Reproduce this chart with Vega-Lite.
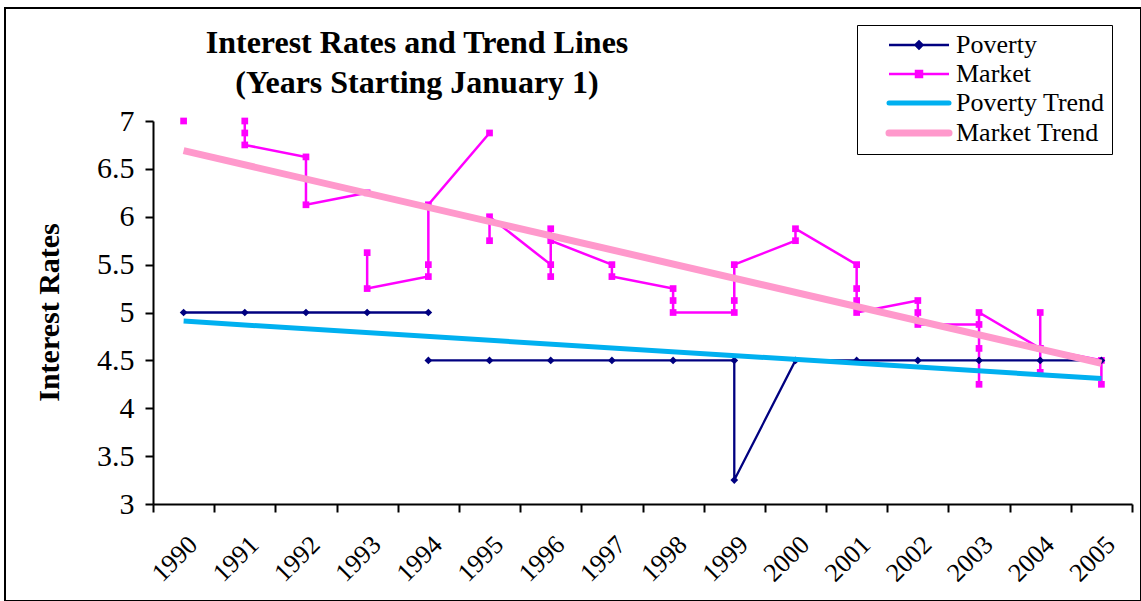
{
  "$schema": "https://vega.github.io/schema/vega-lite/v6.json",
  "width": 1136,
  "height": 593,
  "autosize": {"type": "none"},
  "padding": {"left": 5, "top": 8, "right": 0, "bottom": 0},
  "background": "white",
  "config": {
    "view": {"stroke": "black", "strokeWidth": 2},
    "font": "Liberation Serif"
  },
  "title": {
    "text": ["Interest Rates and Trend Lines", "(Years Starting January 1)"],
    "font": "Liberation Serif",
    "fontSize": 32,
    "fontWeight": "bold",
    "color": "black",
    "anchor": "middle",
    "frame": "group",
    "dx": -156,
    "offset": -92,
    "baseline": "top",
    "lineHeight": 40
  },
  "data": {
    "values": [
      {"s": "Market", "seg": "m0", "i": 0, "yr": 1990, "v": 7.0},
      {"s": "Market", "seg": "m1", "i": 1, "yr": 1991, "v": 7.0},
      {"s": "Market", "seg": "m1", "i": 2, "yr": 1991, "v": 6.875},
      {"s": "Market", "seg": "m1", "i": 3, "yr": 1991, "v": 6.75},
      {"s": "Market", "seg": "m1", "i": 4, "yr": 1992, "v": 6.625},
      {"s": "Market", "seg": "m1", "i": 5, "yr": 1992, "v": 6.125},
      {"s": "Market", "seg": "m1", "i": 6, "yr": 1993, "v": 6.25},
      {"s": "Market", "seg": "m2", "i": 7, "yr": 1993, "v": 5.625},
      {"s": "Market", "seg": "m2", "i": 8, "yr": 1993, "v": 5.25},
      {"s": "Market", "seg": "m2", "i": 9, "yr": 1994, "v": 5.375},
      {"s": "Market", "seg": "m2", "i": 10, "yr": 1994, "v": 5.5},
      {"s": "Market", "seg": "m2", "i": 11, "yr": 1994, "v": 6.125},
      {"s": "Market", "seg": "m2", "i": 12, "yr": 1995, "v": 6.875},
      {"s": "Market", "seg": "m3", "i": 13, "yr": 1995, "v": 5.75},
      {"s": "Market", "seg": "m3", "i": 14, "yr": 1995, "v": 6.0},
      {"s": "Market", "seg": "m3", "i": 15, "yr": 1996, "v": 5.5},
      {"s": "Market", "seg": "m3", "i": 16, "yr": 1996, "v": 5.375},
      {"s": "Market", "seg": "m3", "i": 17, "yr": 1996, "v": 5.875},
      {"s": "Market", "seg": "m3", "i": 18, "yr": 1996, "v": 5.75},
      {"s": "Market", "seg": "m3", "i": 19, "yr": 1997, "v": 5.5},
      {"s": "Market", "seg": "m3", "i": 20, "yr": 1997, "v": 5.375},
      {"s": "Market", "seg": "m3", "i": 21, "yr": 1998, "v": 5.25},
      {"s": "Market", "seg": "m3", "i": 22, "yr": 1998, "v": 5.125},
      {"s": "Market", "seg": "m3", "i": 23, "yr": 1998, "v": 5.0},
      {"s": "Market", "seg": "m3", "i": 24, "yr": 1999, "v": 5.0},
      {"s": "Market", "seg": "m3", "i": 25, "yr": 1999, "v": 5.125},
      {"s": "Market", "seg": "m3", "i": 26, "yr": 1999, "v": 5.5},
      {"s": "Market", "seg": "m3", "i": 27, "yr": 2000, "v": 5.75},
      {"s": "Market", "seg": "m3", "i": 28, "yr": 2000, "v": 5.875},
      {"s": "Market", "seg": "m3", "i": 29, "yr": 2001, "v": 5.5},
      {"s": "Market", "seg": "m3", "i": 30, "yr": 2001, "v": 5.25},
      {"s": "Market", "seg": "m3", "i": 31, "yr": 2001, "v": 5.125},
      {"s": "Market", "seg": "m3", "i": 32, "yr": 2001, "v": 5.0},
      {"s": "Market", "seg": "m3", "i": 33, "yr": 2002, "v": 5.125},
      {"s": "Market", "seg": "m3", "i": 34, "yr": 2002, "v": 5.0},
      {"s": "Market", "seg": "m3", "i": 35, "yr": 2002, "v": 4.875},
      {"s": "Market", "seg": "m3", "i": 36, "yr": 2003, "v": 4.875},
      {"s": "Market", "seg": "m3", "i": 37, "yr": 2003, "v": 4.625},
      {"s": "Market", "seg": "m3", "i": 38, "yr": 2003, "v": 4.25},
      {"s": "Market", "seg": "m3", "i": 39, "yr": 2003, "v": 5.0},
      {"s": "Market", "seg": "m3", "i": 40, "yr": 2004, "v": 4.625},
      {"s": "Market", "seg": "m3", "i": 41, "yr": 2004, "v": 5.0},
      {"s": "Market", "seg": "m3", "i": 42, "yr": 2004, "v": 4.375},
      {"s": "Market", "seg": "m3", "i": 43, "yr": 2004, "v": 4.625},
      {"s": "Market", "seg": "m3", "i": 44, "yr": 2005, "v": 4.5},
      {"s": "Market", "seg": "m3", "i": 45, "yr": 2005, "v": 4.25},
      {"s": "Poverty", "seg": "p1", "i": 0, "yr": 1990, "v": 5.0},
      {"s": "Poverty", "seg": "p1", "i": 1, "yr": 1991, "v": 5.0},
      {"s": "Poverty", "seg": "p1", "i": 2, "yr": 1992, "v": 5.0},
      {"s": "Poverty", "seg": "p1", "i": 3, "yr": 1993, "v": 5.0},
      {"s": "Poverty", "seg": "p1", "i": 4, "yr": 1994, "v": 5.0},
      {"s": "Poverty", "seg": "p2", "i": 5, "yr": 1994, "v": 4.5},
      {"s": "Poverty", "seg": "p2", "i": 6, "yr": 1995, "v": 4.5},
      {"s": "Poverty", "seg": "p2", "i": 7, "yr": 1996, "v": 4.5},
      {"s": "Poverty", "seg": "p2", "i": 8, "yr": 1997, "v": 4.5},
      {"s": "Poverty", "seg": "p2", "i": 9, "yr": 1998, "v": 4.5},
      {"s": "Poverty", "seg": "p2", "i": 10, "yr": 1999, "v": 4.5},
      {"s": "Poverty", "seg": "p2", "i": 11, "yr": 1999, "v": 3.25},
      {"s": "Poverty", "seg": "p2", "i": 12, "yr": 2000, "v": 4.5},
      {"s": "Poverty", "seg": "p2", "i": 13, "yr": 2001, "v": 4.5},
      {"s": "Poverty", "seg": "p2", "i": 14, "yr": 2002, "v": 4.5},
      {"s": "Poverty", "seg": "p2", "i": 15, "yr": 2003, "v": 4.5},
      {"s": "Poverty", "seg": "p2", "i": 16, "yr": 2004, "v": 4.5},
      {"s": "Poverty", "seg": "p2", "i": 17, "yr": 2005, "v": 4.5},
      {"s": "Poverty Trend", "seg": "pt", "i": 0, "yr": 1990, "v": 4.91},
      {"s": "Poverty Trend", "seg": "pt", "i": 1, "yr": 2005, "v": 4.31},
      {"s": "Market Trend", "seg": "mt", "i": 0, "yr": 1990, "v": 6.69},
      {"s": "Market Trend", "seg": "mt", "i": 1, "yr": 2005, "v": 4.47}
    ]
  },
  "encoding": {
    "x": {
      "field": "yr",
      "type": "ordinal",
      "scale": {
        "type": "band",
        "domain": [1990, 1991, 1992, 1993, 1994, 1995, 1996, 1997, 1998, 1999, 2000, 2001, 2002, 2003, 2004, 2005],
        "range": [148, 1127],
        "paddingInner": 0,
        "paddingOuter": 0
      },
      "axis": {
        "title": null,
        "orient": "bottom",
        "offset": -97,
        "tickBand": "extent",
        "grid": false,
        "domainColor": "black",
        "domainWidth": 2,
        "tickColor": "black",
        "tickWidth": 2,
        "tickSize": 8,
        "labelAngle": -45,
        "labelAlign": "right",
        "labelBaseline": "top",
        "labelPadding": 19,
        "labelFont": "Liberation Serif",
        "labelFontSize": 26,
        "labelColor": "black",
        "labelOverlap": false
      }
    },
    "y": {
      "field": "v",
      "type": "quantitative",
      "scale": {"domain": [3, 7], "range": [496, 113], "nice": false, "zero": false},
      "axis": {
        "title": "Interest Rates",
        "orient": "left",
        "offset": -148,
        "values": [3, 3.5, 4, 4.5, 5, 5.5, 6, 6.5, 7],
        "format": "~g",
        "grid": false,
        "domainColor": "black",
        "domainWidth": 2,
        "tickColor": "black",
        "tickWidth": 2,
        "tickSize": 8,
        "labelPadding": 11,
        "labelFont": "Liberation Serif",
        "labelFontSize": 30,
        "labelColor": "black",
        "titleFont": "Liberation Serif",
        "titleFontSize": 30,
        "titleFontWeight": "bold",
        "titleColor": "black",
        "titleX": -104,
        "titleY": 304,
        "titleAngle": -90,
        "titleAlign": "center",
        "titleBaseline": "middle"
      }
    }
  },
  "layer": [
    {
      "transform": [{"filter": "datum.s === 'Market'"}],
      "mark": {"type": "line", "strokeWidth": 2.5},
      "encoding": {
        "color": {
          "field": "s",
          "type": "nominal",
          "scale": {
            "domain": ["Poverty", "Market", "Poverty Trend", "Market Trend"],
            "range": ["#000080", "#FF00FF", "#00B0F0", "#FF99CC"]
          },
          "legend": {
            "orient": "none",
            "legendX": 852,
            "legendY": 17,
            "direction": "vertical",
            "title": null,
            "padding": 7,
            "strokeColor": "black",
            "fillColor": "white",
            "labelFont": "Liberation Serif",
            "labelFontSize": 26,
            "labelColor": "black",
            "labelBaseline": "middle",
            "rowPadding": 3,
            "symbolSize": 100,
            "symbolOffset": 42,
            "labelOffset": 24,
            "symbolType": "M-6,0H6",
            "encode": {
              "symbols": {
                "update": {
                  "shape": {"signal": "datum.value === 'Poverty' ? 'M-6,0H6M-0.7,0L0,-0.7L0.7,0L0,0.7Z' : datum.value === 'Market' ? 'M-6,0H6M-0.6,-0.6H0.6V0.6H-0.6Z' : 'M-6,0H6'"},
                  "strokeWidth": {"signal": "datum.value === 'Poverty' ? 2.5 : datum.value === 'Market' ? 2.5 : datum.value === 'Poverty Trend' ? 5 : 7"},
                  "fill": {"signal": "scale('color', datum.value)"},
                  "stroke": {"signal": "scale('color', datum.value)"},
                  "fillOpacity": {"value": 1},
                  "strokeOpacity": {"value": 1},
                  "opacity": {"value": 1},
                  "strokeCap": {"signal": "datum.value === 'Poverty' || datum.value === 'Market' ? 'butt' : 'round'"}
                }
              }
            }
          }
        },
        "detail": {"field": "seg"},
        "order": {"field": "i", "type": "quantitative"}
      }
    },
    {
      "transform": [{"filter": "datum.s === 'Market'"}],
      "mark": {"type": "point", "shape": "square", "filled": true, "size": 45, "color": "#FF00FF", "opacity": 1}
    },
    {
      "transform": [{"filter": "datum.s === 'Poverty'"}],
      "mark": {"type": "line", "strokeWidth": 2.3},
      "encoding": {
        "color": {"field": "s", "type": "nominal"},
        "detail": {"field": "seg"},
        "order": {"field": "i", "type": "quantitative"}
      }
    },
    {
      "transform": [{"filter": "datum.s === 'Poverty'"}],
      "mark": {"type": "point", "shape": "diamond", "filled": true, "size": 60, "color": "#000080", "opacity": 1}
    },
    {
      "transform": [{"filter": "datum.s === 'Poverty Trend'"}],
      "mark": {"type": "line", "strokeWidth": 5},
      "encoding": {
        "color": {"field": "s", "type": "nominal"},
        "order": {"field": "i", "type": "quantitative"}
      }
    },
    {
      "transform": [{"filter": "datum.s === 'Market Trend'"}],
      "mark": {"type": "line", "strokeWidth": 7},
      "encoding": {
        "color": {"field": "s", "type": "nominal"},
        "order": {"field": "i", "type": "quantitative"}
      }
    }
  ]
}
